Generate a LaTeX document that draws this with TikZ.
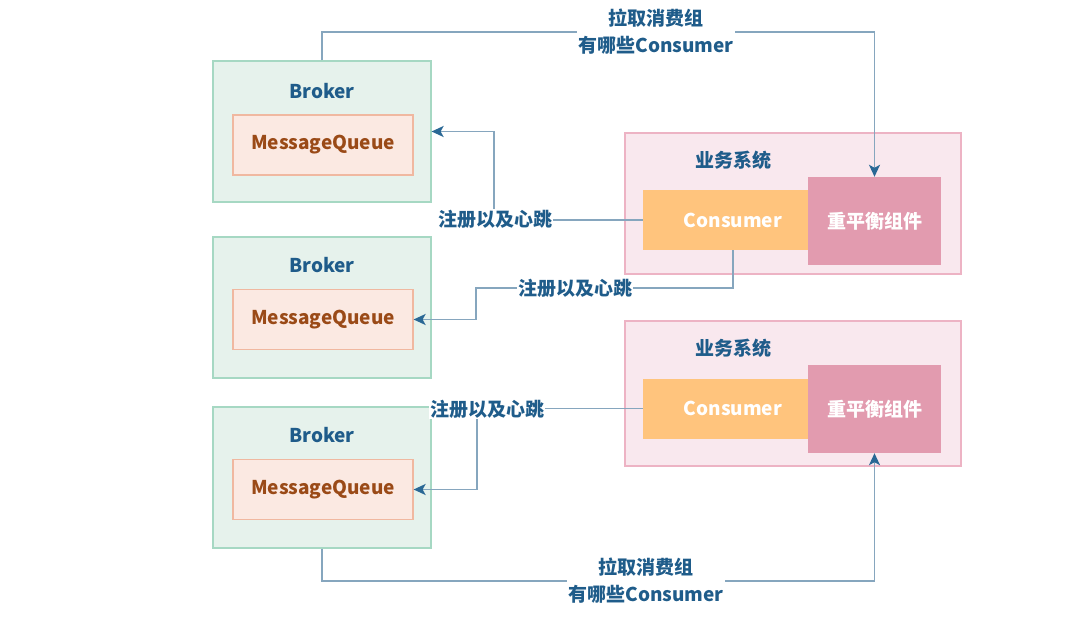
\documentclass[tikz,border=0pt]{standalone}
\usepackage{fontspec}
\setmainfont{Noto Sans CJK SC}
\usetikzlibrary{arrows.meta}
\definecolor{brokerfill}{HTML}{E6F2EC}
\definecolor{brokerline}{HTML}{A6D8C3}
\definecolor{queuefill}{HTML}{FBE9E2}
\definecolor{queueline}{HTML}{F0B8A0}
\definecolor{queuetext}{HTML}{9A4A17}
\definecolor{titleblue}{HTML}{1F5C8A}
\definecolor{sysfill}{HTML}{F9E8EE}
\definecolor{sysline}{HTML}{EDB3C4}
\definecolor{consumerfill}{HTML}{FFC47D}
\definecolor{rebfill}{HTML}{E29BAF}
\definecolor{linkline}{HTML}{86A6BE}
\definecolor{arrowblue}{HTML}{2A6895}
\begin{document}
\begin{tikzpicture}[x=1pt, y=-1pt,
    every node/.style={font=\fontsize{19}{27}\selectfont\bfseries},
    broker/.style ={draw=brokerline, fill=brokerfill, line width=1.2pt, minimum width=218pt, minimum height=141pt},
    queue/.style ={draw=queueline, fill=queuefill, line width=1.2pt, minimum width=180pt, minimum height=60pt, text=queuetext},
    title/.style ={text=titleblue},
    system/.style ={draw=sysline, fill=sysfill, line width=1.2pt, minimum width=336pt},
    consumer/.style ={fill=consumerfill, text=white, minimum width=180pt, minimum height=60pt},
    rebalance/.style ={fill=rebfill, text=white, minimum width=133pt, minimum height=88pt},
    link/.style ={draw=linkline, line width=1.8pt, -{Stealth[length=12pt,width=11pt,inset=3pt,color=arrowblue]}},
    tag/.style ={fill=white, text=titleblue, align=center, inner sep=1pt}]
   \useasboundingbox[fill=white] (0,0) rectangle (1086,620);

   \node[broker] (brokerA) at (322,131.5) {};
   \node[broker] (brokerB) at (322,307.5) {};
   \node[broker] (brokerC) at (322,477.5) {};
   \node[title] (brokerTitleA) at (322,91) {Broker};
   \node[title] (brokerTitleB) at (322,265) {Broker};
   \node[title] (brokerTitleC) at (322,435) {Broker};
   \node[queue] (mqA) at (323,145) {MessageQueue};
   \node[queue] (mqB) at (323,319.5) {MessageQueue};
   \node[queue] (mqC) at (323,489.5) {MessageQueue};

   \node[system, minimum height=141pt] (sysA) at (793,203.5) {};
   \node[system, minimum height=145pt] (sysB) at (793,393.5) {};
   \node[title] (sysTitleA) at (733,160) {业务系统};
   \node[title] (sysTitleB) at (733,348) {业务系统};
   \node[consumer] (conA) at (733,220) {Consumer};
   \node[consumer] (conB) at (733,408.5) {Consumer};
   \node[rebalance] (rebA) at (874.5,221) {重平衡组件};
   \node[rebalance] (rebB) at (874.5,409) {重平衡组件};

   \coordinate (topRoute) at (600,32);
   \coordinate (botRoute) at (600,581);
   \coordinate (regA) at (494,131.5);
   \coordinate (regB) at (476,288);
   \coordinate (regC) at (477,489.5);

   \draw[link] (brokerA.north) |- (topRoute) -| (rebA.north);
   \draw[link] (brokerC.south) |- (botRoute) -| (rebB.south);
   \draw[link] (conA.west) -| (regA) -- (brokerA.east);
   \draw[link] (conA.south) |- (regB) |- (mqB.east);
   \draw[link] (conB.west) -| (regC) -- (mqC.east);

   \node[tag] (pullTop) at (656,32) {拉取消费组\\有哪些Consumer};
   \node[tag] (pullBot) at (646,581) {拉取消费组\\有哪些Consumer};
   \node[tag] (regTagA) at (495,219) {注册以及心跳};
   \node[tag] (regTagB) at (575,288) {注册以及心跳};
   \node[tag] (regTagC) at (487,409) {注册以及心跳};
 \end{tikzpicture}
\end{document}
